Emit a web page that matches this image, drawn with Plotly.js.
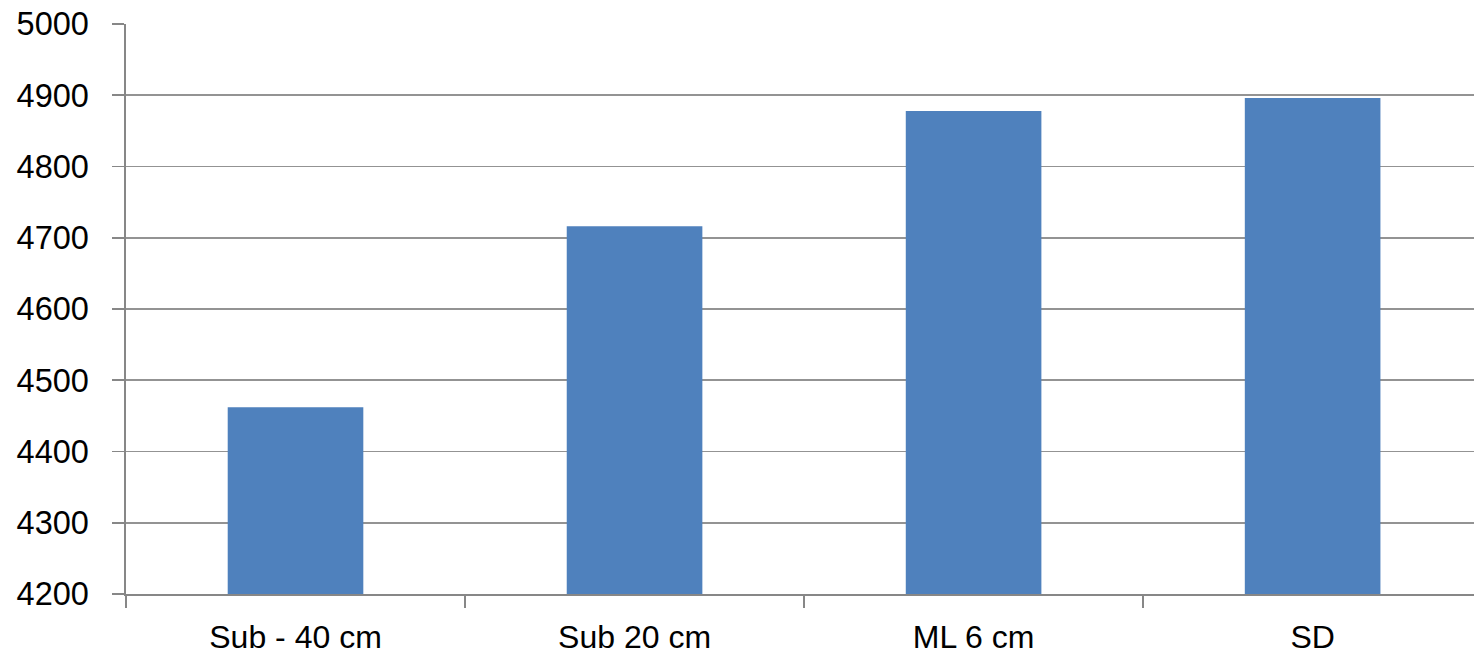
<!DOCTYPE html>
<html>
<head>
<meta charset="utf-8">
<script src="https://cdn.plot.ly/plotly-3.0.1.min.js"></script>
<style>html,body{margin:0;padding:0;background:#fff;}#chart{width:1474px;height:659px;}</style>
</head>
<body>
<div id="chart"></div>
<script>
const categories = ["Sub - 40 cm", "Sub 20 cm", "ML 6 cm", "SD"];
const values = [4462, 4716, 4878, 4896];
const yTicks = [4200, 4300, 4400, 4500, 4600, 4700, 4800, 4900, 5000];
const yMin = 4200, yMax = 5000;

const trace = {
  type: "bar",
  x: categories,
  y: values.map(v => v - yMin),
  base: yMin,
  marker: {color: "#4F81BD", line: {width: 0}},
  hoverinfo: "skip"
};

const layout = {
  width: 1474, height: 659,
  margin: {l: 126, r: 0, t: 24, b: 65, pad: 0},
  paper_bgcolor: "#fff", plot_bgcolor: "#fff",
  font: {family: "Liberation Sans, Arial, sans-serif", size: 32.5, color: "#000"},
  bargap: 0.6,
  showlegend: false,
  xaxis: {
    type: "category",
    range: [-0.5, 3.476],
    showgrid: false,
    showline: true, linecolor: "#878787", linewidth: 1.6,
    ticks: "outside", tickson: "boundaries", ticklen: 12, tickcolor: "#878787", tickwidth: 1.6,
    ticklabelstandoff: 14,
    tickfont: {size: 32}
  },
  yaxis: {
    range: [yMin, yMax],
    tickvals: yTicks,
    ticktext: yTicks.map(String),
    showgrid: true, gridcolor: "#939393", gridwidth: 1.6,
    showline: true, linecolor: "#878787", linewidth: 1.6,
    ticks: "outside", ticklen: 12, tickcolor: "#878787", tickwidth: 1.6,
    ticklabelstandoff: 17,
    zeroline: false,
    tickfont: {size: 32.5}
  }
};

Plotly.newPlot("chart", [trace], layout, {displayModeBar: false, staticPlot: true});
</script>
</body>
</html>
